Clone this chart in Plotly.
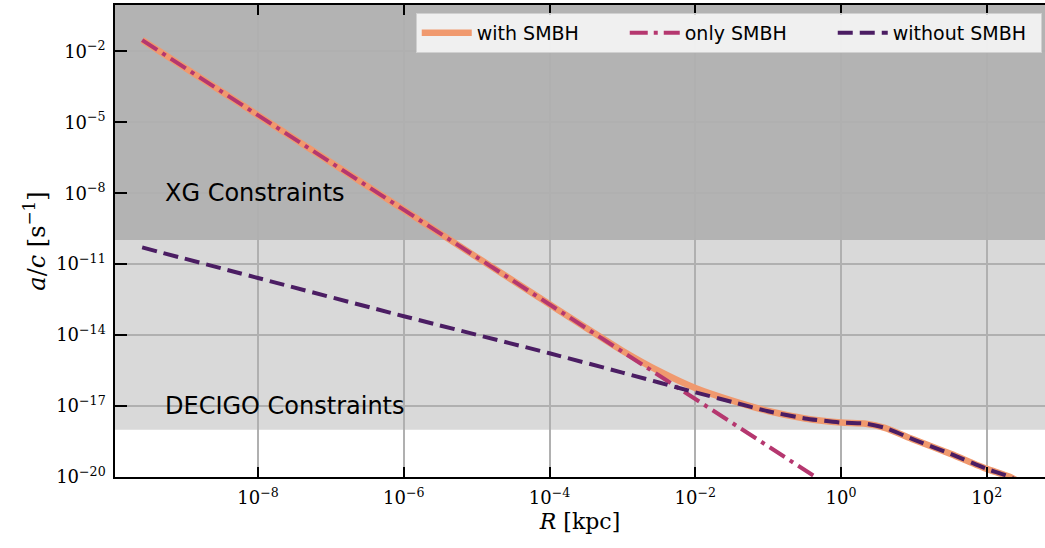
import plotly.graph_objects as go

# ---- data (R in kpc, a/c in s^-1) ----
R_only = [2.57e-10, 1e-8, 1e-6, 1e-4, 1e-2, 1.0]
a_only = [3.0e-2, 2.0e-5, 2.0e-9, 2.0e-13, 2.0e-17, 2.0e-21]

R_without = [2.57e-10, 1e-8, 1e-6, 1e-4, 1e-3, 1e-2, 3.2e-2, 1e-1, 3.2e-1,
             1.0, 2.2, 4.0, 10.0, 32.0, 100.0, 210.0, 400.0]
a_without = [5.1e-11, 2.6e-12, 6.3e-14, 1.7e-15, 2.6e-16, 3.8e-17, 1.5e-17,
             6.0e-18, 3.0e-18, 2.0e-18, 1.8e-18, 1.2e-18, 3.8e-19, 9.5e-20,
             2.2e-20, 1.0e-20, 3.2e-21]

R_with = [2.57e-10, 1e-8, 1e-6, 1e-4, 1e-3, 3.2e-3, 1e-2, 3.2e-2, 1e-1, 3.2e-1,
          1.0, 2.2, 4.0, 10.0, 32.0, 100.0, 210.0, 400.0]
a_with = [3.0e-2, 2.0e-5, 2.0e-9, 2.0e-13, 2.2e-15, 3.0e-16, 5.8e-17, 1.7e-17,
          6.2e-18, 3.0e-18, 2.0e-18, 1.8e-18, 1.2e-18, 3.8e-19, 9.5e-20,
          2.2e-20, 1.0e-20, 3.2e-21]

# constraint bands (a/c thresholds)
XG_limit = 1e-10
DECIGO_limit = 1e-18
band_top = 1.0

x_tick_exps = [-8, -6, -4, -2, 0, 2]
y_tick_exps = [-20, -17, -14, -11, -8, -5, -2]

def pow_label(e):
    s = str(e).replace("-", "\u2212")
    return "10<sup>" + s + "</sup>"

fig = go.Figure()

fig.add_trace(go.Scatter(
    x=R_with, y=a_with, mode="lines", name="with SMBH",
    line=dict(color="#f0996e", width=6.5, shape="spline", smoothing=0.6)))
fig.add_trace(go.Scatter(
    x=R_only, y=a_only, mode="lines", name="only SMBH",
    line=dict(color="#b5376f", width=4, dash="18px,6px,4px,6px")))
fig.add_trace(go.Scatter(
    x=R_without, y=a_without, mode="lines", name="without SMBH",
    line=dict(color="#4b1d63", width=4, dash="15px,7px", shape="spline", smoothing=0.6)))

fig.add_shape(type="rect", xref="paper", yref="y", x0=0, x1=1,
              y0=XG_limit, y1=band_top, fillcolor="#b3b3b3",
              line=dict(width=0), layer="below")
fig.add_shape(type="rect", xref="paper", yref="y", x0=0, x1=1,
              y0=DECIGO_limit, y1=XG_limit, fillcolor="#d9d9d9",
              line=dict(width=0), layer="below")

sans = "DejaVu Sans"
serif = "DejaVu Serif"

fig.add_annotation(x=-9.31, y=-8, xref="x", yref="y", text="XG Constraints",
                   showarrow=False, xanchor="left", yanchor="middle",
                   font=dict(family=sans, size=24, color="black"))
fig.add_annotation(x=-9.31, y=-17, xref="x", yref="y", text="DECIGO Constraints",
                   showarrow=False, xanchor="left", yanchor="middle",
                   font=dict(family=sans, size=24, color="black"))

fig.update_xaxes(
    type="log", range=[-9.963, 2.80], automargin=False,
    tickvals=[10.0 ** e for e in x_tick_exps],
    ticktext=[pow_label(e) for e in x_tick_exps],
    ticks="inside", ticklen=10, tickwidth=2, tickcolor="black",
    showline=True, linecolor="black", linewidth=1.5, mirror="ticks",
    showgrid=True, gridcolor="#b0b0b0", gridwidth=1.5, zeroline=False,
    ticklabelstandoff=4,
    tickfont=dict(family=serif, size=18, color="black"),
    title=dict(text="<i>R</i> [kpc]", font=dict(family=serif, size=22, color="black"),
               standoff=6),
)
fig.update_yaxes(
    type="log", range=[-20, -0.04], automargin=False,
    tickvals=[10.0 ** e for e in y_tick_exps],
    ticktext=[pow_label(e) for e in y_tick_exps],
    ticks="inside", ticklen=12, tickwidth=2, tickcolor="black",
    showline=True, linecolor="black", linewidth=1.5, mirror=False,
    showgrid=True, gridcolor="#b0b0b0", gridwidth=1.5, zeroline=False,
    ticklabelstandoff=4,
    tickfont=dict(family=serif, size=18, color="black"),
    title=dict(text="<i>a</i>/<i>c</i> [s<sup>\u22121</sup>]",
               font=dict(family=serif, size=24, color="black"), standoff=4),
)

fig.update_layout(
    width=1045, height=548,
    margin=dict(l=115, r=0, t=5, b=71, autoexpand=False),
    paper_bgcolor="white", plot_bgcolor="white",
    showlegend=True,
    legend=dict(orientation="h", x=0.9965, xanchor="right", y=0.983, yanchor="top",
                bgcolor="rgba(255,255,255,0.8)", bordercolor="#d0d0d0", borderwidth=1,
                font=dict(family=sans, size=19, color="black"),
                itemwidth=50, entrywidth=143, entrywidthmode="pixels"),
)

fig.write_html("out.html", config={"displayModeBar": False},
               post_script="document.body.style.margin='0px';document.body.style.padding='0px';")
